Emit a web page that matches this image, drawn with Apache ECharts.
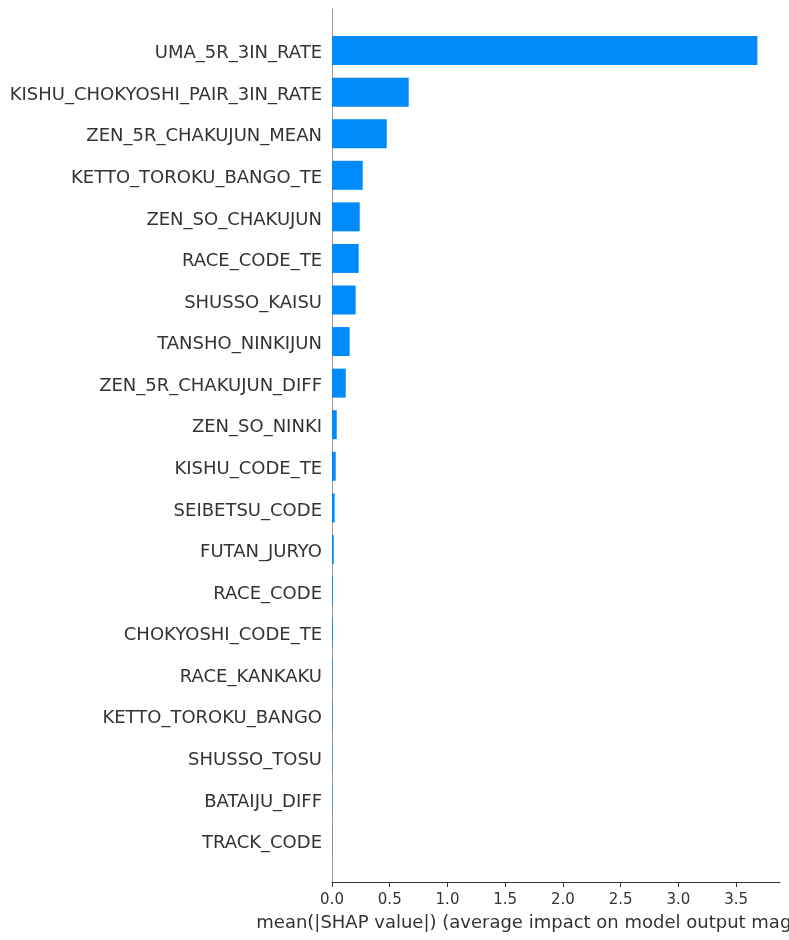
<!DOCTYPE html>
<html>
<head>
<meta charset="utf-8">
<script src="https://cdn.jsdelivr.net/npm/echarts@6/dist/echarts.min.js"></script>
<style>
html,body{margin:0;padding:0;background:#fff;}
#chart{width:789px;height:940px;}
</style>
</head>
<body>
<div id="chart"></div>
<script>
const features = [
  "UMA_5R_3IN_RATE",
  "KISHU_CHOKYOSHI_PAIR_3IN_RATE",
  "ZEN_5R_CHAKUJUN_MEAN",
  "KETTO_TOROKU_BANGO_TE",
  "ZEN_SO_CHAKUJUN",
  "RACE_CODE_TE",
  "SHUSSO_KAISU",
  "TANSHO_NINKIJUN",
  "ZEN_5R_CHAKUJUN_DIFF",
  "ZEN_SO_NINKI",
  "KISHU_CODE_TE",
  "SEIBETSU_CODE",
  "FUTAN_JURYO",
  "RACE_CODE",
  "CHOKYOSHI_CODE_TE",
  "RACE_KANKAKU",
  "KETTO_TOROKU_BANGO",
  "SHUSSO_TOSU",
  "BATAIJU_DIFF",
  "TRACK_CODE"
];
const meanAbsShap = [3.683, 0.664, 0.474, 0.266, 0.240, 0.231, 0.205, 0.153, 0.119, 0.041, 0.032, 0.023, 0.015, 0.008, 0.007, 0.006, 0.005, 0.004, 0.003, 0.002];
const xTicks = [0, 0.5, 1.0, 1.5, 2.0, 2.5, 3.0, 3.5];
const xMax = 3.879;
const xLabel = "mean(|SHAP value|) (average impact on model output magnitude)";

// pad with empty slots to reproduce the -1 .. n axis range
const yCats = [""].concat(features, [""]);
const barData = [null].concat(meanAbsShap, [null]);

const chart = echarts.init(document.getElementById('chart'), null, {renderer: 'canvas'});
chart.setOption({
  animation: false,
  backgroundColor: '#ffffff',
  grid: {left: 332, right: 9, top: 9, bottom: 58, containLabel: false, outerBoundsMode: 'none'},
  xAxis: {
    type: 'value',
    min: 0,
    max: xMax,
    name: xLabel,
    nameLocation: 'middle',
    nameGap: 32,
    nameTextStyle: {fontFamily: 'DejaVu Sans', fontSize: 18, color: '#333333'},
    axisLine: {show: true, lineStyle: {color: '#333333', width: 1}},
    axisTick: {show: true, length: 5, lineStyle: {color: '#333333'}, customValues: xTicks},
    axisLabel: {
      fontFamily: 'DejaVu Sans', fontSize: 15, color: '#333333', margin: 11,
      customValues: xTicks,
      formatter: v => v.toFixed(1)
    },
    splitLine: {show: false}
  },
  yAxis: {
    type: 'category',
    data: yCats,
    inverse: true,
    boundaryGap: false,
    axisLine: {show: true, lineStyle: {color: '#999999', width: 1}},
    axisTick: {show: false},
    axisLabel: {
      margin: 10, interval: 0,
      formatter: v => v ? '{a|' + v + '}' : '',
      rich: {a: {fontFamily: 'DejaVu Sans', fontSize: 18, color: '#333333', padding: [6, 0, 0, 0]}}
    },
    splitLine: {show: false}
  },
  series: [{
    type: 'bar',
    data: barData,
    barWidth: 29,
    itemStyle: {color: '#008bfb'}
  }]
});
</script>
</body>
</html>
